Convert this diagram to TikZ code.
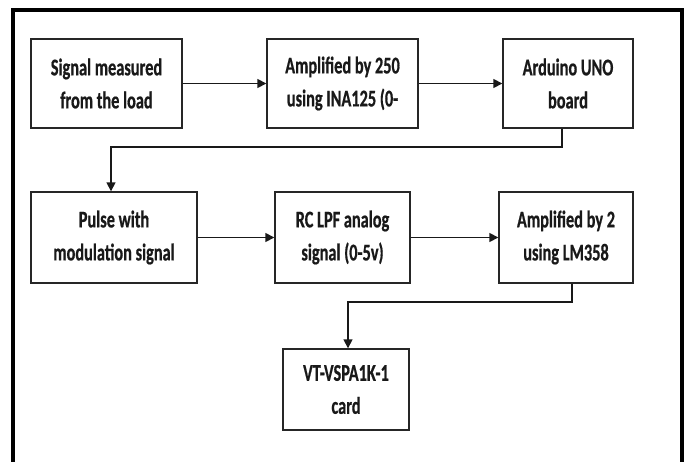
\documentclass[tikz,border=0pt]{standalone}
\usepackage{fontspec}
\newfontfamily\boxfont[FakeStretch=0.68,BoldFont={Carlito Bold},BoldFeatures={FakeStretch=0.68,FakeBold=0.6}]{Carlito}
\usetikzlibrary{arrows.meta}
\begin{document}
\begin{tikzpicture}[x=1pt,y=-1pt,
  blk/.style={draw=black!85,line width=1.4pt,fill=white,inner sep=0pt,
    font=\boxfont\bfseries\fontsize{24}{33}\selectfont,align=center,text=black!90},
  conn/.style={draw=black!90,line width=1.6pt,-{Triangle[length=9pt,width=9pt]}}]
\useasboundingbox (0,0) rectangle (690,461);
\fill[white] (0,0) rectangle (690,461);
\draw[line width=4pt] (13,470) -- (13,10) -- (682,10) -- (682,470);
% row 1
\node[blk,minimum width=151pt,minimum height=89pt] (b1) at (106.5,83.5) {Signal measured\\from the load};
\node[blk,minimum width=151pt,minimum height=89pt] (b2) at (342.5,83.5) {Amplified by 250\\using INA125 (0-};
\node[blk,minimum width=130pt,minimum height=89pt] (b3) at (568,83.5) {Arduino UNO\\board};
% row 2
\node[blk,minimum width=166pt,minimum height=91pt] (b4) at (114,237.5) {Pulse with\\modulation signal};
\node[blk,minimum width=135pt,minimum height=91pt] (b5) at (342.5,237.5) {RC LPF analog\\signal (0-5v)};
\node[blk,minimum width=134pt,minimum height=91pt] (b6) at (566,237.5) {Amplified by 2\\using LM358};
% row 3
\node[blk,minimum width=126pt,minimum height=81pt] (b7) at (346,389.5) {VT-VSPA1K-1\\card};
% connectors
\draw[conn] (b1.east) -- (b2.west);
\draw[conn] (b2.east) -- (b3.west);
\coordinate (c1) at (562,147);
\coordinate (c2) at (111,147);
\draw[conn] (b3.south -| c1) -- (c1) -- (c2) -- (c2 |- b4.north);
\draw[conn] (b4.east) -- (b5.west);
\draw[conn] (b5.east) -- (b6.west);
\coordinate (c3) at (572,302);
\coordinate (c4) at (348,302);
\draw[conn] (b6.south -| c3) -- (c3) -- (c4) -- (c4 |- b7.north);
\end{tikzpicture}
\end{document}
